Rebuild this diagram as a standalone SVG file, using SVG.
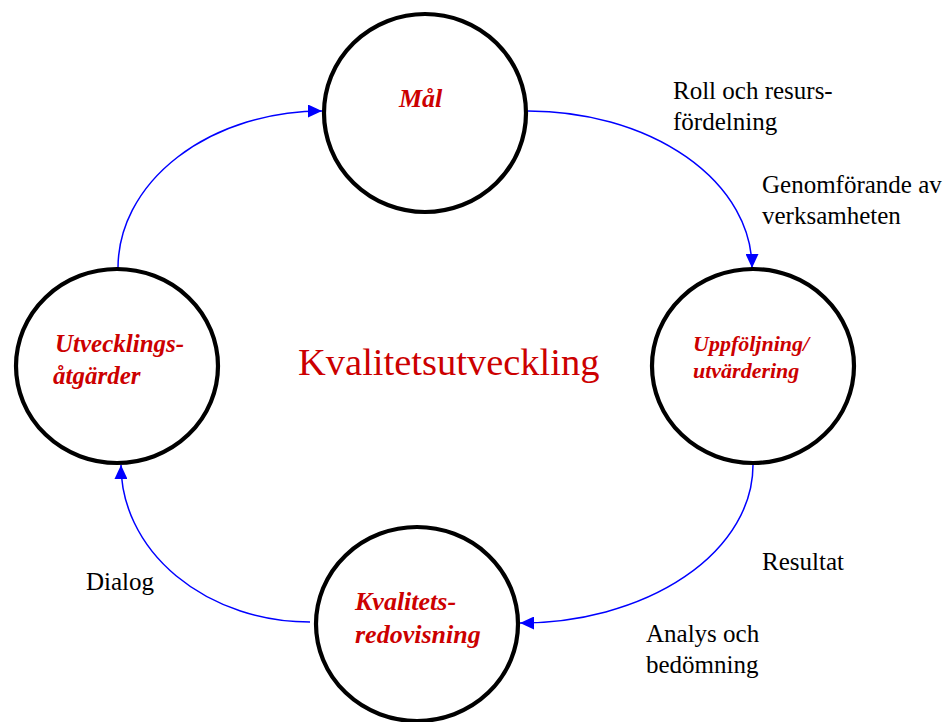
<svg xmlns="http://www.w3.org/2000/svg" width="948" height="722" viewBox="0 0 948 722">
  <style>
    .node { fill: #ffffff; stroke: #000000; stroke-width: 4.2; }
    .label { font-family: "Liberation Serif", "Times New Roman", serif; font-weight: bold; font-style: italic; fill: #cc0000; }
    .note { font-family: "Liberation Serif", "Times New Roman", serif; font-size: 25px; fill: #000000; }
    .title { font-family: "Liberation Serif", "Times New Roman", serif; font-size: 38.5px; fill: #cc0000; }
    .flow { fill: none; stroke: #0000ff; stroke-width: 1.5; marker-end: url(#head); }
  </style>
  <defs>
    <marker id="head" markerUnits="userSpaceOnUse" markerWidth="14" markerHeight="13" refX="14" refY="6.5" orient="auto">
      <path d="M0,0 L14,6.5 L0,13 Z" fill="#0000ff"/>
    </marker>
  </defs>

  <rect width="948" height="722" fill="#ffffff"/>

  <!-- cycle connectors -->
  <g id="connectors">
    <path class="flow" d="M118,268 A204,157 0 0 1 322,111"/>
    <path class="flow" d="M528,111 A224,157 0 0 1 752,268"/>
    <path class="flow" d="M753,465 A233,158 0 0 1 520,623"/>
    <path class="flow" d="M310,622 A189,157 0 0 1 121,465"/>
  </g>

  <g id="mal">
    <ellipse class="node" cx="425" cy="113" rx="101" ry="99"/>
    <text class="label" x="399" y="107" font-size="26">Mål</text>
  </g>

  <g id="uppfoljning">
    <ellipse class="node" cx="753" cy="366" rx="101" ry="97"/>
    <text class="label" x="693" y="351" font-size="22">Uppföljning/</text>
    <text class="label" x="693" y="378" font-size="22">utvärdering</text>
  </g>

  <g id="kvalitetsredovisning">
    <ellipse class="node" cx="417" cy="624" rx="101" ry="97"/>
    <text class="label" x="355" y="610" font-size="26">Kvalitets-</text>
    <text class="label" x="355" y="643" font-size="26">redovisning</text>
  </g>

  <g id="utvecklingsatgarder">
    <ellipse class="node" cx="117" cy="366" rx="101" ry="97"/>
    <text class="label" x="55" y="352" font-size="25">Utvecklings-</text>
    <text class="label" x="53" y="384" font-size="25">åtgärder</text>
  </g>

  <!-- centre heading -->
  <text class="title" x="298" y="375">Kvalitetsutveckling</text>

  <!-- connector notes -->
  <g id="notes">
    <text class="note" x="673" y="99">Roll och resurs-</text>
    <text class="note" x="673" y="130">fördelning</text>
    <text class="note" x="762" y="193">Genomförande av</text>
    <text class="note" x="762" y="224">verksamheten</text>
    <text class="note" x="762" y="570">Resultat</text>
    <text class="note" x="646" y="642">Analys och</text>
    <text class="note" x="646" y="673">bedömning</text>
    <text class="note" x="86" y="590">Dialog</text>
  </g>
</svg>
